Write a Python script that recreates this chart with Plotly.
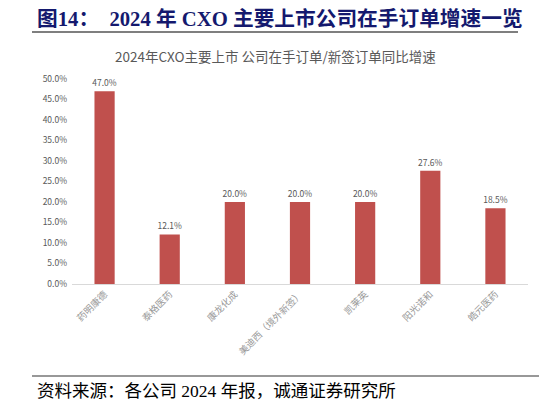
import plotly.graph_objects as go

companies = ["药明康德", "泰格医药", "康龙化成", "美迪西（境外新签）", "凯莱英", "阳光诺和", "皓元医药"]
growth = [0.470, 0.121, 0.200, 0.200, 0.200, 0.276, 0.185]
y_ticks = [0.0, 0.05, 0.10, 0.15, 0.20, 0.25, 0.30, 0.35, 0.40, 0.45, 0.50]

OFF = 8  # page body margin
W, H = 547 - OFF, 406 - OFF
L, R, T, B = 72 - OFF, 528 - OFF, 79 - OFF, 284 - OFF  # plot area in pixels


def px(x):
    return (x - OFF - L) / (R - L)


def py(y):
    return (B - (y - OFF)) / (B - T)


fig = go.Figure(go.Bar(
    x=companies,
    y=growth,
    width=0.31,
    marker=dict(color="#C0504D", line=dict(width=0)),
    text=[f"{v * 100:.1f}%" for v in growth],
    textposition="outside",
    constraintext="none",
    textfont=dict(size=8.5, color="#595959"),
    cliponaxis=False,
))

cjk = "Noto Sans CJK SC, sans-serif"

fig.update_layout(
    width=W, height=H,
    margin=dict(l=L, r=W - R, t=T, b=H - B),
    plot_bgcolor="white",
    paper_bgcolor="white",
    showlegend=False,
    font=dict(family=cjk, color="#595959"),
    xaxis=dict(
        tickangle=-45,
        tickfont=dict(size=9.5, color="#999999", family=cjk),
        showline=True, linecolor="#D9D9D9", linewidth=1,
        ticks="", showgrid=False,
    ),
    yaxis=dict(
        range=[0, 0.5],
        tickvals=y_ticks,
        tickformat=".1%",
        tickfont=dict(size=8.5, color="#595959"),
        ticklabelstandoff=4,
        showgrid=False, zeroline=False, showline=False,
        ticks="",
    ),
    annotations=[
        dict(text="<b>图14：  2024 年 CXO 主要上市公司在手订单增速一览</b>",
             x=px(35), y=py(19), xref="paper", yref="paper",
             xanchor="left", yanchor="middle", showarrow=False,
             font=dict(size=20.7, color="#14196E", family="Liberation Serif, Noto Sans CJK SC")),
        dict(text="2024年CXO主要上市 公司在手订单/新签订单同比增速",
             x=px(275), y=py(56), xref="paper", yref="paper",
             xanchor="center", yanchor="middle", showarrow=False,
             font=dict(size=13.5, color="#595959", family=cjk)),
        dict(text="资料来源：各公司 2024 年报，诚通证券研究所",
             x=px(35), y=py(391), xref="paper", yref="paper",
             xanchor="left", yanchor="middle", showarrow=False,
             font=dict(size=17.5, color="#000000", family="Liberation Serif, Noto Sans CJK SC")),
    ],
    shapes=[
        dict(type="line", xref="paper", yref="paper",
             x0=px(32), x1=px(518), y0=py(32), y1=py(32),
             line=dict(color="#000000", width=1.2)),
        dict(type="line", xref="paper", yref="paper",
             x0=px(32), x1=px(541), y0=py(376), y1=py(376),
             line=dict(color="#333333", width=1.2)),
    ],
)

fig.write_html("out.html")
